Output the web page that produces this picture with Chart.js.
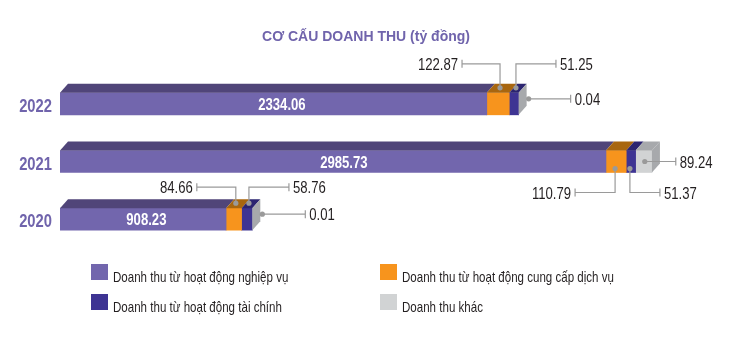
<!DOCTYPE html>
<html>
<head>
<meta charset="utf-8">
<script src="https://cdn.jsdelivr.net/npm/chart.js@4/dist/chart.umd.min.js"></script>
<style>
  html, body { margin: 0; padding: 0; background: #fff; }
  #wrap { width: 734px; height: 352px; }
</style>
</head>
<body>
<div id="wrap"><canvas id="myChart" width="734" height="352"></canvas></div>
<script>
// data
const years = ["2022", "2021", "2020"];
const nghiepVu = [2334.06, 2985.73, 908.23];
const dichVu = [122.87, 110.79, 84.66];
const taiChinh = [51.25, 51.37, 58.76];
const khac = [0.04, 89.24, 0.01];
const seriesNames = [
  "Doanh thu từ hoạt động nghiệp vụ",
  "Doanh thu từ hoạt động cung cấp dịch vụ",
  "Doanh thu từ hoạt động tài chính",
  "Doanh thu khác",
];
const title = "CƠ CẤU DOANH THU (tỷ đồng)";

// colours (front face / top face)
const frontColors = ["#7266ad", "#f7941d", "#3e3493", "#d1d3d4"];
const topColors = ["#504579", "#a8660f", "#2b2470", "#a7a9ac"];
const purple = "#7064ac";
const textColor = "#231f20";
const lineColor = "#9a9a9a";
const sans = "'Liberation Sans', Arial, sans-serif";

// depth of the fake 3D
const DX = 8;
const DY = -9;

// where the callout labels go (layout only)
const callouts = [
  { bar: 0, ds: 1, dir: "upL", rise: 29, len: 38 },
  { bar: 0, ds: 2, dir: "upR", rise: 29, len: 40 },
  { bar: 0, ds: 3, dir: "side", len: 42 },
  { bar: 1, ds: 3, dir: "front", len: 31 },
  { bar: 1, ds: 1, dir: "downL", drop: 20, len: 40 },
  { bar: 1, ds: 2, dir: "downR", drop: 20, len: 30 },
  { bar: 2, ds: 1, dir: "upL", rise: 21, len: 39 },
  { bar: 2, ds: 2, dir: "upR", rise: 21, len: 40 },
  { bar: 2, ds: 3, dir: "side", len: 43 },
];

const seriesData = [nghiepVu, dichVu, taiChinh, khac];

function poly(ctx, pts, color) {
  ctx.beginPath();
  ctx.moveTo(pts[0][0], pts[0][1]);
  for (let i = 1; i < pts.length; i++) ctx.lineTo(pts[i][0], pts[i][1]);
  ctx.closePath();
  ctx.fillStyle = color;
  ctx.fill();
}

// no narrow font installed, so squeeze Liberation Sans sideways
function narrowText(ctx, text, x, y, font, sx, align, color) {
  ctx.save();
  ctx.font = font;
  ctx.fillStyle = color;
  ctx.textAlign = align;
  ctx.textBaseline = "alphabetic";
  ctx.translate(x, y);
  ctx.scale(sx, 1);
  ctx.fillText(text, 0, 0);
  ctx.restore();
}

const fakeThreeD = {
  id: "fakeThreeD",
  afterDatasetsDraw(chart) {
    const ctx = chart.ctx;
    ctx.save();
    const n = chart.data.datasets.length;

    // top faces
    for (let d = 0; d < n; d++) {
      const meta = chart.getDatasetMeta(d);
      meta.data.forEach((el) => {
        const x0 = el.base, x1 = el.x;
        const yTop = el.y - el.height / 2;
        poly(ctx, [[x0, yTop], [x0 + DX, yTop + DY], [x1 + DX, yTop + DY], [x1, yTop]], topColors[d]);
      });
    }
    // right side face at the end of every stack
    chart.getDatasetMeta(n - 1).data.forEach((el) => {
      const x1 = el.x;
      const yTop = el.y - el.height / 2;
      const yBot = el.y + el.height / 2;
      poly(ctx, [[x1, yTop], [x1 + DX, yTop + DY], [x1 + DX, yBot + DY], [x1, yBot]], topColors[n - 1]);
    });

    // value inside the purple bar
    chart.getDatasetMeta(0).data.forEach((el, i) => {
      const cx = el.base + (el.x - el.base) * 0.52;
      narrowText(ctx, nghiepVu[i].toFixed(2), cx, el.y + 6, "bold 16px " + sans, 0.82, "center", "#ffffff");
    });

    // year labels
    chart.getDatasetMeta(0).data.forEach((el, i) => {
      narrowText(ctx, years[i], 52, el.y + 8, "bold 18px " + sans, 0.82, "right", purple);
    });

    // callouts
    ctx.strokeStyle = lineColor;
    ctx.lineWidth = 1.2;
    callouts.forEach((c) => {
      const el = chart.getDatasetMeta(c.ds).data[c.bar];
      const x0 = el.base, x1 = el.x;
      const xc = (x0 + x1) / 2;
      const yTop = el.y - el.height / 2;
      const yBot = el.y + el.height / 2;
      let px, py, pts, endX, endY, side;
      if (c.dir === "upL" || c.dir === "upR") {
        px = xc + 2; py = yTop - 5;
        endY = yTop - c.rise;
        side = c.dir === "upL" ? -1 : 1;
        endX = px + side * c.len;
        pts = [[px, py], [px, endY], [endX, endY]];
      } else if (c.dir === "downL" || c.dir === "downR") {
        px = xc - 1; py = yBot - 4;
        endY = yBot + c.drop;
        side = c.dir === "downL" ? -1 : 1;
        endX = px + side * c.len;
        pts = [[px, py], [px, endY], [endX, endY]];
      } else if (c.dir === "side") {
        px = x1 + DX + 2; py = el.y - 5;
        endY = py; side = 1;
        endX = px + c.len;
        pts = [[px, py], [endX, endY]];
      } else {
        px = xc + 1; py = el.y;
        endY = py; side = 1;
        endX = px + c.len;
        pts = [[px, py], [endX, endY]];
      }
      ctx.beginPath();
      ctx.moveTo(pts[0][0], pts[0][1]);
      for (let i = 1; i < pts.length; i++) ctx.lineTo(pts[i][0], pts[i][1]);
      ctx.moveTo(endX, endY - 4);
      ctx.lineTo(endX, endY + 4);
      ctx.stroke();
      ctx.beginPath();
      ctx.arc(px, py, 2.6, 0, Math.PI * 2);
      ctx.fillStyle = lineColor;
      ctx.fill();
      narrowText(ctx, seriesData[c.ds][c.bar].toFixed(2), endX + side * 4, endY + 6,
        "16px " + sans, 0.82, side < 0 ? "right" : "left", textColor);
    });

    // title
    ctx.fillStyle = purple;
    ctx.font = "bold 14px " + sans;
    ctx.textAlign = "center";
    ctx.textBaseline = "alphabetic";
    ctx.fillText(title, 366, 41);

    // legend
    const legendPos = [[91, 264], [380, 264], [91, 294], [380, 294]];
    seriesNames.forEach((name, i) => {
      const [lx, ly] = legendPos[i];
      ctx.fillStyle = frontColors[i];
      ctx.fillRect(lx, ly, 17, 16);
      narrowText(ctx, name, lx + 22, ly + 18, "15px " + sans, 0.77, "left", textColor);
    });

    ctx.restore();
  },
};

const chartData = {
  labels: years,
  datasets: seriesNames.map((name, i) => ({
    label: name,
    data: seriesData[i],
    backgroundColor: frontColors[i],
    borderWidth: 0,
    barThickness: 22,
  })),
};

const config = {
  type: "bar",
  data: chartData,
  options: {
    indexAxis: "y",
    responsive: false,
    animation: false,
    devicePixelRatio: 1,
    layout: { padding: { left: 60, right: 34, top: 75, bottom: 104 } },
    scales: {
      x: { stacked: true, min: 0, max: 3500, display: false },
      y: { stacked: true, display: false },
    },
    plugins: {
      legend: { display: false },
      title: { display: false },
      tooltip: { enabled: false },
    },
  },
  plugins: [fakeThreeD],
};

new Chart(document.getElementById("myChart"), config);
</script>
</body>
</html>
